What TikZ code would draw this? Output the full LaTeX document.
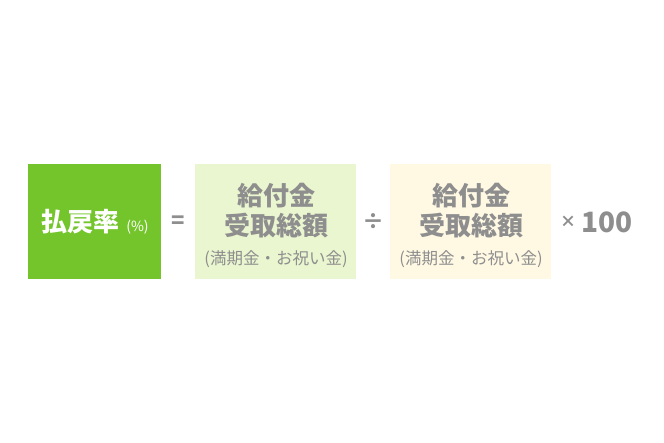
\documentclass[tikz,border=0pt]{standalone}
\usepackage{fontspec}
\setmainfont{Noto Sans CJK JP}
\usepackage{xcolor}
\usepackage{tikz}
\usetikzlibrary{positioning}
\definecolor{leaf}{HTML}{74C52B}
\definecolor{mint}{HTML}{EAF6CF}
\definecolor{cream}{HTML}{FFF9E4}
\definecolor{ink}{HTML}{8E8E8E}
\newcommand{\bigtxt}[1]{{\fontsize{26}{28}\selectfont\bfseries #1}}
\newcommand{\subtxt}[1]{{\fontsize{16.5}{18}\selectfont #1}}

\begin{document}
\begin{tikzpicture}[x=1pt,y=-1pt,every node/.style={inner sep=0pt,text=ink},
  term/.style={minimum width=161pt,minimum height=115pt}]
\useasboundingbox (0,0) rectangle (664,443);
\node[term,fill=leaf,minimum width=133pt] (rate) at (94.5,221.5) {};
\node[text=white] (ratelbl) at (95,222) {\bigtxt{払戻率}\hspace{7pt}{\fontsize{14}{16}\selectfont(\%)}};
\node[font=\bfseries\fontsize{22}{22}\selectfont] (eq) at (178,222) {=};
\node[term,fill=mint] (paid) at (275.5,221.5) {};
\node (paid1) at (276,196) {\bigtxt{給付金}};
\node (paid2) at (276,226) {\bigtxt{受取総額}};
\node (paid3) at (276,259) {\subtxt{(満期金・お祝い金)}};
\node[font=\bfseries\fontsize{22}{22}\selectfont] (div) at (373,222) {÷};
\node[term,fill=cream] (recv) at (470.5,221.5) {};
\node (recv1) at (471,196) {\bigtxt{給付金}};
\node (recv2) at (471,226) {\bigtxt{受取総額}};
\node (recv3) at (471,259) {\subtxt{(満期金・お祝い金)}};
\node[font=\bfseries\fontsize{16}{16}\selectfont] (times) at (568,222) {×};
\node[font=\bfseries\fontsize{28}{28}\selectfont] (hundred) at (607,222) {100};
\end{tikzpicture}
\end{document}
